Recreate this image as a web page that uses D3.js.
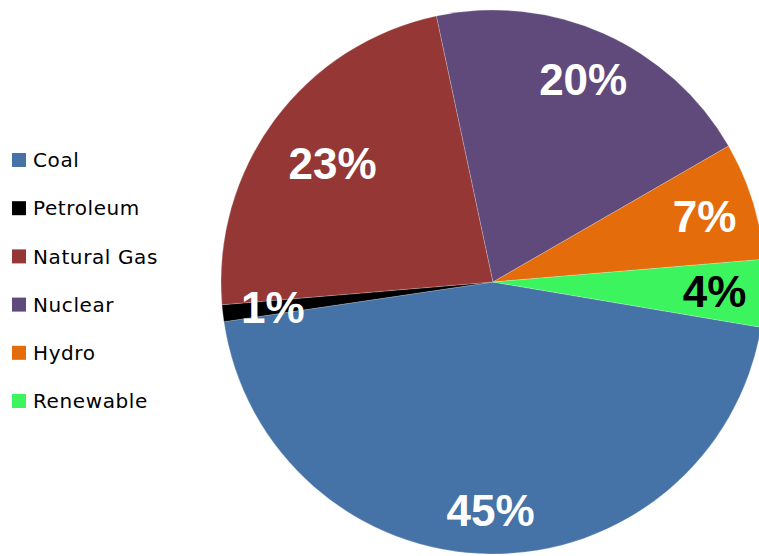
<!DOCTYPE html>
<html>
<head>
<meta charset="utf-8">
<script src="https://cdn.jsdelivr.net/npm/d3@7"></script>
<style>
  body { margin: 0; background: #fff; overflow: hidden; }
  svg { display: block; }
  .legend text { font-family: "DejaVu Sans", sans-serif; font-size: 20px; letter-spacing: 0.6px; fill: #000; }
  .pct { font-family: "Liberation Sans", Arial, sans-serif; font-weight: bold; font-size: 44px; }
</style>
</head>
<body>
<div id="chart"></div>
<script>
var sources = ["Coal", "Petroleum", "Natural Gas", "Nuclear", "Hydro", "Renewable"];
var shares = [45, 1, 23, 20, 7, 4];

var width = 759,
    height = 556;

var color = ["#4572a7", "#000000", "#953735", "#604a7b", "#e46c0a", "#3cf55e"];
var labelColor = ["#fff", "#fff", "#fff", "#fff", "#fff", "#000"];
// excel "best fit" pushes a couple of labels in or out a bit
var labelFrac = { "Coal": 0.84, "Natural Gas": 0.735 };

var cx = 493, cy = 282, radius = 272;

var svg = d3.select("#chart").append("svg")
    .attr("width", width)
    .attr("height", height);

var start = 99.6 * Math.PI / 180;
var pie = d3.pie()
    .value(function(d) { return d; })
    .sort(null)
    .startAngle(start)
    .endAngle(start + 2 * Math.PI);

var arcs = pie(shares);
var arc = d3.arc().outerRadius(radius).innerRadius(0);

var pieG = svg.append("g")
    .attr("class", "pie")
    .attr("transform", "translate(" + cx + "," + cy + ")");

pieG.selectAll("path")
    .data(arcs)
    .enter().append("path")
    .attr("d", arc)
    .attr("fill", function(d, i) { return color[i]; })
    .attr("stroke", "rgba(255,255,255,0.35)")
    .attr("stroke-width", 0.6);

pieG.selectAll(".pct")
    .data(arcs)
    .enter().append("text")
    .attr("class", "pct")
    .attr("text-anchor", "middle")
    .attr("dy", "0.36em")
    .attr("transform", function(d, i) {
        var f = labelFrac[sources[i]] || 0.815;
        var r = radius * f;
        var la = d3.arc().outerRadius(r).innerRadius(r);
        return "translate(" + la.centroid(d) + ")";
    })
    .style("fill", function(d, i) { return labelColor[i]; })
    .text(function(d) { return d.data + "%"; });

var ly = d3.scaleLinear().domain([0, sources.length - 1]).range([160, 401]);

var legend = svg.selectAll(".legend")
    .data(sources)
    .enter().append("g")
    .attr("class", "legend")
    .attr("transform", function(d, i) { return "translate(12," + ly(i) + ")"; });

legend.append("rect")
    .attr("x", 0)
    .attr("y", -7)
    .attr("width", 14)
    .attr("height", 14)
    .style("fill", function(d, i) { return color[i]; });

legend.append("text")
    .attr("x", 21)
    .attr("y", 0)
    .attr("dy", "0.36em")
    .text(function(d) { return d; });
</script>
</body>
</html>
